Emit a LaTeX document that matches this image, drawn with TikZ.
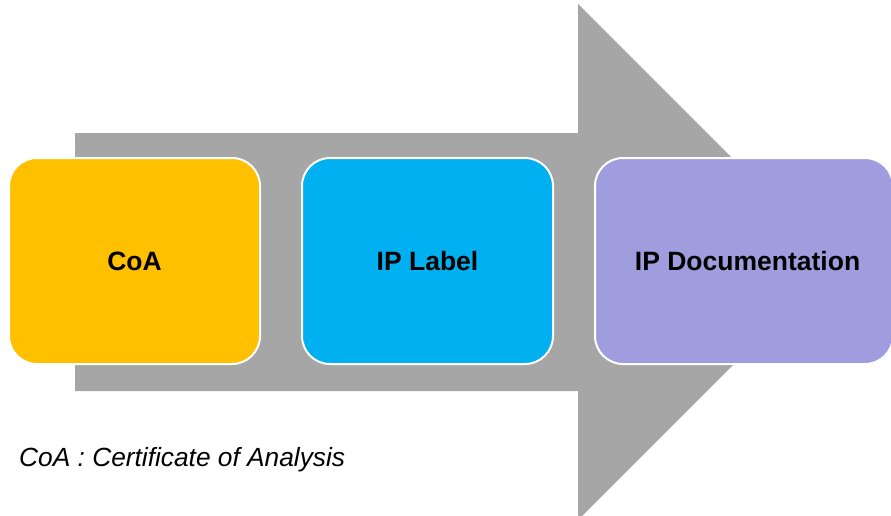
\documentclass[tikz,border=0pt]{standalone}
\usepackage{fontspec}
\setmainfont{Liberation Sans}
\definecolor{arrowgray}{HTML}{A6A6A6}
\definecolor{coayellow}{HTML}{FFC000}
\definecolor{ipblue}{HTML}{00B0F0}
\definecolor{doclav}{HTML}{9F9DDD}
\begin{document}
\begin{tikzpicture}[x=1pt,y=-1pt,
  stagebox/.style={rectangle, rounded corners=28pt, draw=white, line width=2pt,
    minimum height=206pt, inner sep=0pt, anchor=west},
  stagetext/.style={font=\fontsize{26.5}{31}\selectfont\bfseries, text=black, inner sep=0pt},
  notetext/.style={font=\fontsize{26.3}{31}\selectfont\itshape, text=black, inner sep=0pt, anchor=base west}]
\useasboundingbox (0,0) rectangle (891,515);
\clip (0,0) rectangle (891,515);
\fill[arrowgray] (75,133) -- (578,133) -- (578,4) -- (836,262) -- (578,520) -- (578,391) -- (75,391) -- cycle;
\node[stagebox, fill=coayellow, minimum width=251pt] (coa) at (8,261) {};
\node[stagetext] (coat) at (coa.center) {CoA};
\node[stagebox, fill=ipblue, minimum width=251pt] (ipl) at (301,261) {};
\node[stagetext] (iplt) at (ipl.center) {IP Label};
\node[stagebox, fill=doclav, minimum width=298pt] (ipd) at (594,261) {};
\node[stagetext] (ipdt) at (747.6,261) {IP Documentation};
\node[notetext] (note) at (19,466) {CoA : Certificate of Analysis};
\end{tikzpicture}
\end{document}
